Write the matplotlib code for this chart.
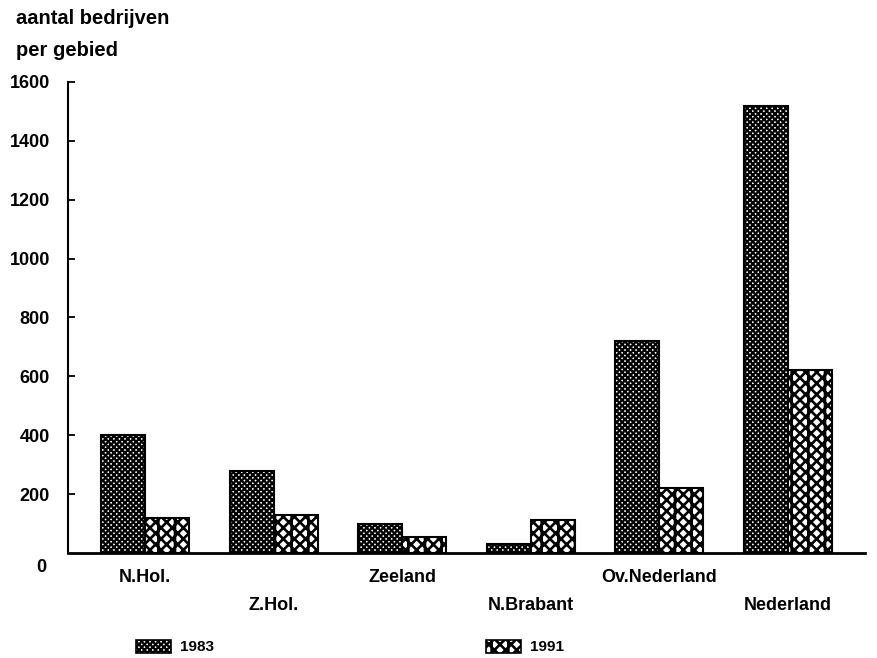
import matplotlib.pyplot as plt
import matplotlib.transforms as mtransforms
from matplotlib.patches import Rectangle
import numpy as np

plt.rcParams['font.family'] = ['Liberation Sans', 'DejaVu Sans']
plt.rcParams['font.weight'] = 'bold'

gebieden = ["N.Hol.", "Z.Hol.", "Zeeland", "N.Brabant", "Ov.Nederland", "Nederland"]
bedrijven_1983 = [400, 278, 100, 30, 720, 1520]
bedrijven_1991 = [118, 128, 55, 112, 220, 620]
y_ticks = [200, 400, 600, 800, 1000, 1200, 1400, 1600]

hatch_83 = "xxxxxx"
hatch_91 = "xxx|"
lw_83 = 1.6
lw_91 = 1.9


def set_hlw(patches, lw):
    for p in patches:
        if hasattr(p, "set_hatch_linewidth"):
            p.set_hatch_linewidth(lw)


fig = plt.figure(figsize=(8.77, 6.58), dpi=100)
ax = fig.add_axes([0.0775, 0.1596, 0.9085, 0.7158])

x = np.arange(len(gebieden))
w = 0.342
plt.rcParams['hatch.linewidth'] = lw_83
b83 = ax.bar(x - w / 2, bedrijven_1983, w, color="white", edgecolor="black",
             hatch=hatch_83, linewidth=1.5)
plt.rcParams['hatch.linewidth'] = lw_91
b91 = ax.bar(x + w / 2, bedrijven_1991, w, color="white", edgecolor="black",
             hatch=hatch_91, linewidth=1.5)
set_hlw(b83, lw_83)
set_hlw(b91, lw_91)

ax.set_xlim(-0.6, 5.6)
ax.set_ylim(0, 1600)
ax.set_yticks(y_ticks)
ax.set_yticklabels([str(v) for v in y_ticks], fontsize=13, fontweight="bold")
ax.tick_params(axis="y", direction="in", length=5, width=1.3, pad=13)
ax.set_xticks([])
for s in ["top", "right"]:
    ax.spines[s].set_visible(False)
ax.spines["left"].set_linewidth(1.5)
ax.spines["bottom"].set_linewidth(2)

# "0" label sits a bit lower than its tick
ax.annotate("0", xy=(0, 0), xycoords=("axes fraction", "data"),
            xytext=(-22, -15), textcoords="offset pixels",
            ha="right", va="center", fontsize=13, fontweight="bold")

# staggered category labels
trans = mtransforms.blended_transform_factory(ax.transData, fig.transFigure)
for i, naam in enumerate(gebieden):
    yy = 1 - 577 / 658 if i % 2 == 0 else 1 - 605 / 658
    ax.text(i, yy, naam, transform=trans, ha="center", va="center",
            fontsize=13, fontweight="bold")

fig.text(16 / 877, 1 - 19 / 658, "aantal bedrijven", ha="left", va="center",
         fontsize=14.5, fontweight="bold")
fig.text(16 / 877, 1 - 50 / 658, "per gebied", ha="left", va="center",
         fontsize=14.5, fontweight="bold")

# legend
for (x0, hatch, hlw, lab) in [(136, hatch_83, lw_83, "1983"),
                              (486, hatch_91, lw_91, "1991")]:
    plt.rcParams['hatch.linewidth'] = hlw
    r = Rectangle((x0 / 877, 1 - 653 / 658), 35 / 877, 13 / 658,
                  transform=fig.transFigure, facecolor="white",
                  edgecolor="black", hatch=hatch, linewidth=1.2)
    set_hlw([r], hlw)
    fig.patches.append(r)
    fig.text((x0 + 44) / 877, 1 - 647 / 658, lab, ha="left", va="center",
             fontsize=11, fontweight="bold")

fig.savefig("out.png", dpi=100)
